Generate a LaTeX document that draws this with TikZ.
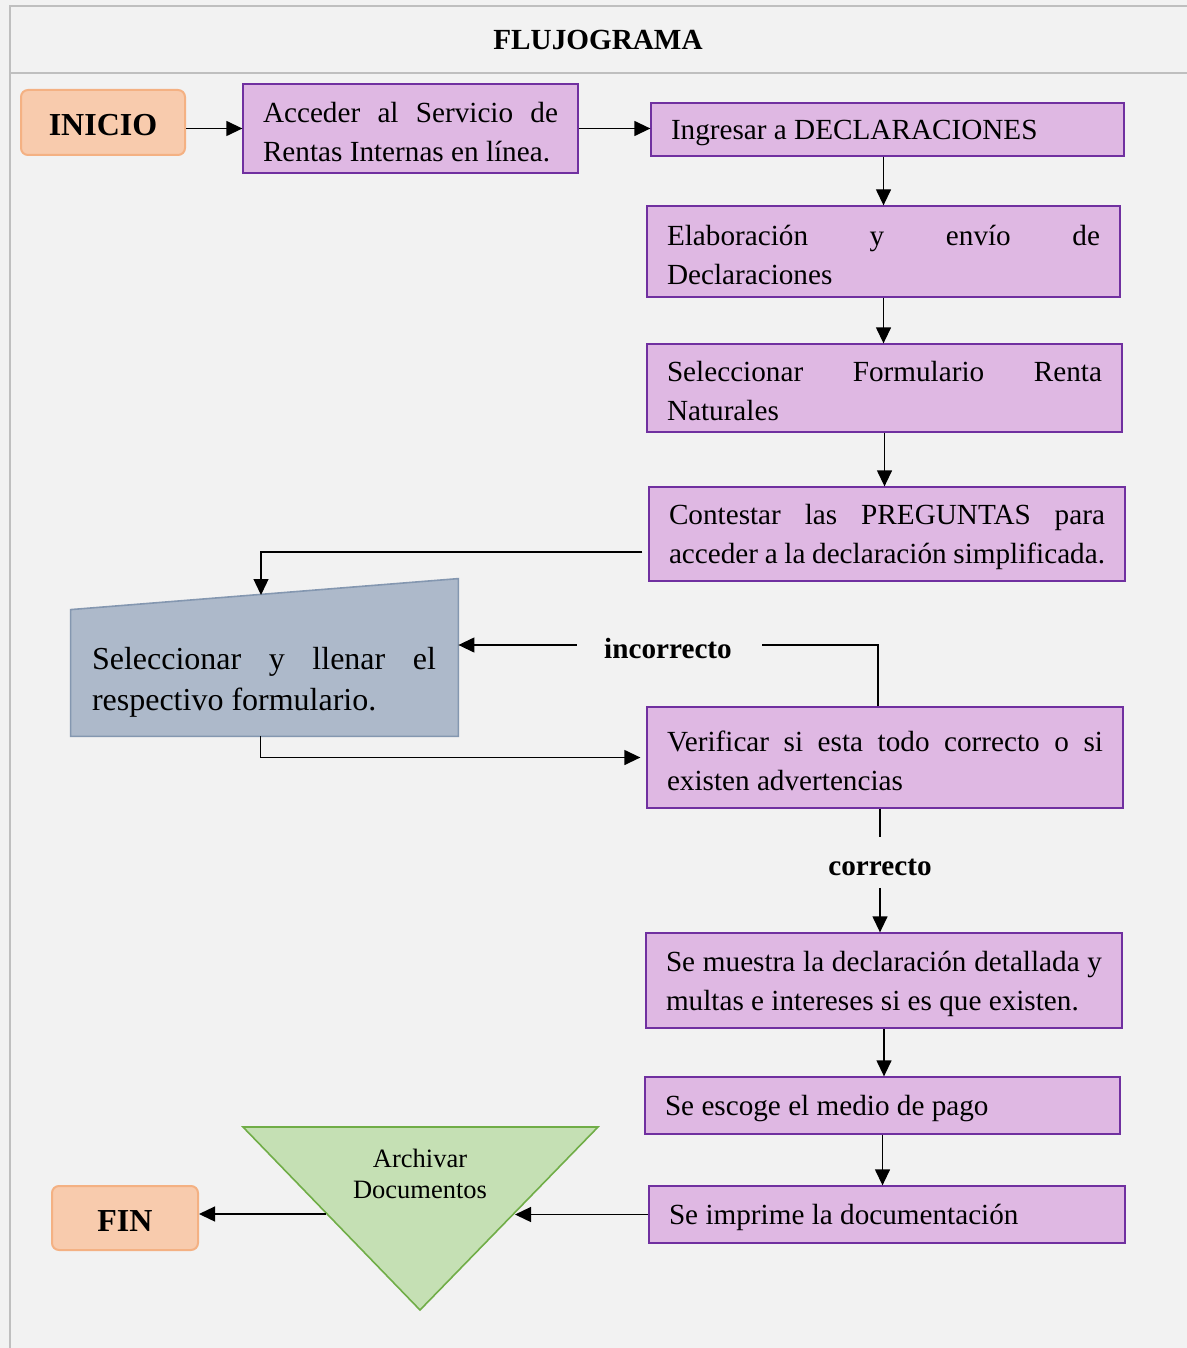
\documentclass[tikz,border=0pt]{standalone}
\usepackage{fontspec}
\setmainfont{Liberation Serif}
\usetikzlibrary{arrows.meta}

\definecolor{fondo}{HTML}{F2F2F2}
\definecolor{marco}{HTML}{BFBFBF}
\definecolor{lila}{HTML}{DFB8E3}
\definecolor{morado}{HTML}{7030A0}
\definecolor{naranja}{HTML}{F8CBAD}
\definecolor{naranjaborde}{HTML}{F4B183}
\definecolor{azul}{HTML}{ADB9CA}
\definecolor{azulborde}{HTML}{8497B0}
\definecolor{verde}{HTML}{C5E0B4}
\definecolor{verdeborde}{HTML}{70AD47}

\newcommand{\texto}{\fontsize{14.6}{19.5}\selectfont\hyphenpenalty=10000\tolerance=10000}

\begin{document}
\begin{tikzpicture}[x=0.5pt, y=-0.5pt,
  caja/.style={draw=morado, fill=lila, line width=0.65pt, inner xsep=10pt, inner ysep=0pt, align=justify, font=\texto,
    execute at begin node={\rule{0pt}{13.5pt}}},
  terminal/.style={draw=naranjaborde, fill=naranja, line width=1pt, rounded corners=3.5pt, text height=13.5pt, text depth=0pt,
    font=\fontsize{16}{19}\selectfont\bfseries},
  flecha/.style={line width=0.65pt, -{Triangle[length=8pt,width=7.5pt]}},
  linea/.style={line width=0.65pt},
  etiqueta/.style={font=\fontsize{14.6}{17}\selectfont\bfseries, inner sep=0pt}]

  % fondo y marco
  \fill[fondo] (0,0) rectangle (1187,1348);
  \useasboundingbox (0,0) rectangle (1187,1348);
  \draw[marco, line width=1pt] (1187,6) -- (10,6) -- (10,1348);
  \draw[marco, line width=1pt] (10,73.5) -- (1187,73.5);
  \node[etiqueta] (titulo) at (598,40) {FLUJOGRAMA};

  % columna derecha
  \node[terminal, minimum width=82pt, minimum height=32.5pt] (inicio) at (103,122.5) {INICIO};
  \node[caja, text width=147.5pt, minimum height=44.5pt] (acceder) at (410.5,128.5)
    {Acceder al Servicio de\linebreak Rentas Internas en línea.};
  \node[caja, text width=216.5pt, minimum height=26.5pt] (ingresar) at (887.5,129.5)
    {Ingresar a DECLARACIONES};
  \node[caja, text width=216.5pt, minimum height=45.5pt] (elabora) at (883.5,251.5)
    {Elaboración y envío de\linebreak Declaraciones};
  \node[caja, text width=217.5pt, minimum height=44pt] (formulario) at (884.5,388)
    {Seleccionar Formulario Renta\linebreak Naturales};
  \node[caja, text width=218pt, minimum height=47pt] (contestar) at (887,534)
    {Contestar las PREGUNTAS para\linebreak acceder a la declaración simplificada.};
  \node[caja, text width=218pt, minimum height=50.5pt] (verificar) at (885,757.5)
    {Verificar si esta todo correcto o si\linebreak existen advertencias};
  \node[caja, text width=218pt, minimum height=47.5pt] (muestra) at (884,980.5)
    {Se muestra la declaración detallada y\linebreak multas e intereses si es que existen.};
  \node[caja, text width=217.5pt, minimum height=28.5pt] (escoge) at (882.5,1105.5)
    {Se escoge el medio de pago};
  \node[caja, text width=218pt, minimum height=28.5pt] (imprime) at (887,1214.5)
    {Se imprime la documentación};

  % entrada manual
  \node[minimum width=193.5pt, minimum height=78.5pt, inner sep=0pt] (llenar) at (264.5,657.5) {};
  \draw[fill=azul, draw=azulborde, line width=0.8pt] (llenar.south west) -- (llenar.south east)
    -- (llenar.north east) -- ([yshift=-15.5pt]llenar.north west) -- cycle;
  \node[text width=172pt, align=justify, inner sep=0pt, font=\fontsize{16}{20.5}\selectfont] (llenartxt) at (264,682)
    {Seleccionar y llenar el\linebreak respectivo formulario.};
  \coordinate (llenartop) at (261,595);

  % archivo
  \coordinate (tA) at (243,1127);
  \coordinate (tB) at (598,1127);
  \coordinate (tC) at (420,1310);
  \draw[fill=verde, draw=verdeborde, line width=0.8pt] (tA) -- (tB) -- (tC) -- cycle;
  \node[align=center, inner sep=0pt, font=\fontsize{13.25}{15.5}\selectfont] (archivar) at (420,1174) {Archivar\\Documentos};
  \coordinate (trder) at (515,1214.5);
  \coordinate (trizq) at (326,1214);
  \node[terminal, minimum width=73pt, minimum height=32pt] (fin) at (125,1218) {FIN};

  % etiquetas
  \node[etiqueta] (incorrecto) at (668,649) {incorrecto};
  \node[etiqueta] (correcto) at (880,867) {correcto};
  \coordinate (incD) at ([xshift=15pt,yshift=2pt]incorrecto.east);
  \coordinate (incI) at ([xshift=-13.5pt,yshift=2pt]incorrecto.west);

  % conectores
  \draw[flecha] (acceder.west -| inicio.east) -- (acceder.west);
  \draw[flecha] (acceder.east) -- (acceder.east -| ingresar.west);
  \draw[flecha] (elabora.north |- ingresar.south) -- (elabora.north);
  \draw[flecha] (elabora.south) -- (elabora.south |- formulario.north);
  \draw[flecha] (formulario.south) -- (formulario.south |- contestar.north);
  \draw[flecha] ([xshift=-3pt,yshift=-9pt]contestar.west) -| (llenartop);
  \draw[flecha] ([xshift=-2pt]llenar.south) |- ([xshift=-3pt]verificar.west);
  \draw[linea] ([xshift=-3.5pt]verificar.north) |- (incD);
  \draw[flecha] (incI) -- (incI -| llenar.east);
  \draw[linea] (correcto.north |- verificar.south) -- ([yshift=10.5pt]correcto.north);
  \draw[flecha] ([yshift=-6pt]correcto.south) -- (correcto.south |- muestra.north);
  \draw[flecha] (muestra.south) -- (muestra.south |- escoge.north);
  \draw[flecha] (escoge.south) -- (escoge.south |- imprime.north);
  \draw[flecha] (imprime.west) -- (trder);
  \draw[flecha] (trizq) -- (trizq -| fin.east);
\end{tikzpicture}
\end{document}
